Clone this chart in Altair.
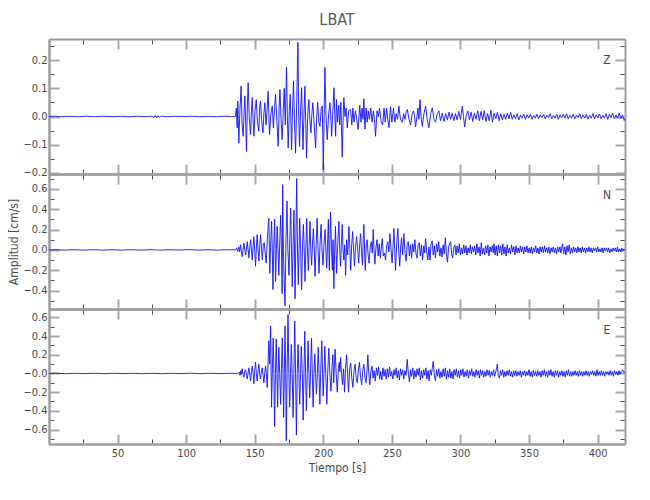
import altair as alt
import pandas as pd

alt.data_transformers.disable_max_rows()

# ---------------- data ----------------
Z_QUIET = [(0, 0.0), (4, 0.001), (9, -0.001), (15, 0.0005), (21, -0.001), (27, 0.001), (33, -0.0005),
           (40, 0.001), (46, -0.001), (52, 0.0005), (58, -0.001), (64, 0.001), (70, -0.0005), (75, 0.001),
           (76.5, -0.003), (77.5, 0.004), (78.5, -0.004), (79.5, 0.003), (80.5, -0.003), (82, 0.001),
           (86, -0.001), (92, 0.001), (98, -0.0005), (104, 0.001), (110, -0.001), (116, 0.0005),
           (122, -0.001), (128, 0.001), (133, -0.0005), (135.5, 0.0)]

Z_PTS = [(136.0, 0.0), (136.6, 0.03), (137.2, -0.04), (137.7, 0.055), (138.4, -0.094), (139.2, 0.02),
         (140.1, 0.108), (140.8, -0.03), (141.6, -0.07), (142.2, 0.01), (142.8, 0.073), (143.4, -0.02),
         (144.0, -0.124), (144.6, 0.03), (145.2, 0.12), (146.0, 0.0), (147.0, -0.064), (147.6, 0.02),
         (148.2, 0.067), (148.8, -0.01), (149.4, -0.07), (150.2, 0.02), (151.1, 0.06), (152.0, -0.02),
         (153.0, -0.052), (153.6, 0.03), (154.2, 0.055), (155.0, -0.01), (156.0, -0.058), (156.7, 0.01),
         (157.4, 0.049), (158.2, -0.03), (159.0, 0.02), (159.8, 0.09), (160.8, -0.064), (161.8, 0.01),
         (162.8, 0.037), (163.6, -0.04), (164.4, 0.02), (165.2, 0.079), (166.2, -0.02), (167.1, -0.106),
         (167.8, 0.03), (168.4, 0.096), (169.2, -0.01), (170.0, -0.082), (170.8, 0.02), (171.5, 0.1),
         (172.3, -0.03), (173.2, 0.174), (173.8, 0.0), (174.4, -0.112), (175.2, 0.02), (175.9, 0.079),
         (176.4, -0.02), (176.9, -0.118), (177.6, 0.03), (178.3, 0.126), (179.0, -0.02), (179.8, -0.13),
         (180.6, 0.05), (181.5, 0.263), (182.1, 0.0), (182.7, -0.106), (183.5, 0.03), (184.2, 0.102),
         (184.7, -0.01), (185.2, -0.118), (186.0, 0.02), (186.6, 0.108), (187.2, -0.02), (187.8, -0.148),
         (188.7, 0.01), (189.5, 0.06), (190.2, -0.01), (191.0, -0.058), (191.7, 0.01), (192.4, 0.049),
         (193.4, -0.03), (194.4, -0.112), (195.2, 0.0), (195.9, 0.05), (196.8, -0.02), (197.6, -0.035),
         (198.5, 0.03), (199.3, 0.037), (200.0, -0.19), (200.6, 0.0), (201.2, 0.174), (202.0, 0.0),
         (202.9, -0.082), (203.9, 0.01), (204.9, 0.049), (205.5, -0.01), (206.1, -0.07), (207.0, 0.02),
         (207.8, 0.102), (208.5, -0.01), (209.0, -0.07), (209.6, 0.06), (210.4, -0.02), (211.2, 0.04),
         (212.0, -0.03), (212.8, 0.05), (213.8, -0.144), (214.5, 0.0), (215.0, 0.067), (215.8, 0.0),
         (216.6, 0.03), (217.5, -0.04), (218.5, 0.02), (219.9, 0.025), (220.8, -0.03), (221.6, 0.03),
         (222.4, -0.02), (223.4, 0.02), (224.4, -0.01), (225.4, -0.046), (226.6, 0.04), (227.5, -0.02),
         (228.3, 0.03), (229.0, -0.01), (229.6, 0.063), (230.4, -0.045), (231.2, 0.03), (232.0, -0.02),
         (232.8, 0.02), (233.6, -0.01), (234.6, 0.03), (235.6, -0.02), (236.5, 0.02), (237.3, -0.01),
         (238.1, -0.07), (239.2, 0.02), (240.2, 0.0), (241.0, 0.03), (242.2, -0.02), (243.3, -0.03),
         (244.3, 0.03), (245.2, -0.02), (246.2, 0.03), (247.0, -0.01), (247.9, -0.04), (249.0, 0.035),
         (250.0, -0.02), (251.2, 0.03), (252.2, -0.02), (253.2, 0.01), (254.2, -0.01), (255.1, 0.037),
         (256.3, -0.01), (257.6, -0.02), (258.6, 0.01), (259.6, -0.01), (260.4, 0.015), (261.3, 0.025),
         (262.5, -0.01), (263.7, -0.03), (264.8, 0.01), (265.8, 0.02), (266.6, 0.0), (267.3, -0.037),
         (268.3, 0.0), (269.0, 0.03), (269.7, -0.01), (270.5, 0.06), (271.3, 0.0), (272.2, -0.035),
         (273.4, 0.01), (274.6, 0.037), (275.8, -0.01), (277.0, -0.04), (278.3, 0.01), (279.5, 0.031),
         (280.7, -0.01), (281.9, -0.02), (283.1, 0.01), (284.3, 0.02), (285.5, -0.015), (286.7, 0.012),
         (288.0, -0.018), (289.2, 0.01), (290.5, -0.012), (291.6, 0.015), (292.8, -0.01), (294.0, 0.012),
         (295.2, -0.015), (296.4, 0.01), (297.6, -0.012), (298.8, 0.018), (300.0, -0.01), (301.4, 0.037),
         (302.2, 0.0), (303.1, -0.037), (304.3, 0.005), (305.4, 0.02), (306.6, -0.012), (307.8, 0.015),
         (309.0, -0.018), (310.2, 0.012), (311.4, -0.01), (312.6, 0.02), (313.8, -0.015), (315.0, 0.018),
         (316.2, -0.012), (317.4, 0.02), (318.6, -0.018), (319.8, 0.01), (321.0, -0.015), (322.2, 0.022),
         (323.4, -0.02), (324.6, 0.012), (325.8, -0.008), (327.0, 0.015), (328.2, -0.015), (329.4, 0.01),
         (330.6, -0.012), (331.8, 0.008), (333.0, -0.01), (334.2, 0.012), (335.4, -0.008), (336.6, 0.015),
         (337.8, -0.01), (339.0, 0.006), (340.2, -0.008), (341.4, 0.01), (342.6, -0.012), (343.8, 0.005),
         (345.0, -0.006), (346.2, 0.008), (347.4, -0.01), (348.6, 0.006), (349.8, -0.005), (351.0, 0.008),
         (352.2, -0.01), (353.4, 0.004), (354.6, -0.006), (355.8, 0.008), (357.0, -0.008), (358.2, 0.006),
         (359.4, -0.004), (360.6, 0.007), (361.8, -0.008), (363.0, 0.005), (364.2, -0.004), (365.4, 0.01),
         (366.6, -0.008), (367.8, 0.004), (369.0, -0.006), (370.2, 0.008), (371.4, -0.01), (372.6, 0.006),
         (373.8, -0.005), (375.0, 0.008), (376.2, -0.006), (377.4, 0.01), (378.6, -0.008), (379.8, 0.004),
         (381.0, -0.006), (382.2, 0.008), (383.4, -0.008), (384.6, 0.005), (385.8, -0.004), (387.0, 0.01),
         (388.2, -0.008), (389.4, 0.006), (390.6, -0.005), (391.8, 0.008), (393.0, -0.01), (394.2, 0.005),
         (395.4, -0.006), (396.6, 0.01), (397.8, -0.008), (399.0, 0.006), (400.2, -0.005), (401.4, 0.009),
         (402.6, -0.008), (403.8, 0.004), (405.0, -0.006), (406.2, 0.01), (407.4, -0.01), (408.6, 0.008),
         (409.8, -0.004), (411.0, 0.012), (412.2, -0.008), (413.4, 0.006), (414.6, -0.006), (415.8, 0.012),
         (417.0, -0.008), (418.2, 0.006), (419.4, -0.014), (420.0, -0.008)]

N_QUIET = [(0, 0.0), (5, 0.002), (11, -0.002), (18, 0.002), (25, -0.002), (32, 0.002), (39, -0.002),
           (46, 0.002), (53, -0.002), (60, 0.002), (67, -0.002), (74, 0.002), (81, -0.002), (88, 0.002),
           (95, -0.002), (102, 0.003), (109, -0.002), (116, 0.002), (123, -0.002), (130, 0.002), (135.5, 0.0)]

N_PTS = [(136.0, 0.0), (136.8, 0.02), (137.6, -0.015), (138.4, 0.03), (139.0, -0.02), (139.7, 0.05),
         (140.3, -0.02), (140.9, -0.066), (141.5, 0.0), (142.1, 0.066), (142.8, 0.0), (143.4, -0.05),
         (144.0, 0.02), (144.6, 0.08), (145.2, 0.0), (145.8, -0.08), (146.4, 0.02), (147.0, 0.1),
         (147.6, 0.0), (148.2, -0.1), (148.8, 0.03), (149.4, 0.13), (150.0, 0.0), (150.6, -0.16),
         (151.2, 0.02), (151.8, 0.15), (152.4, 0.0), (153.1, -0.11), (153.7, 0.05), (154.3, 0.15),
         (155.0, 0.0), (155.6, -0.1), (156.3, 0.06), (157.0, 0.07), (157.7, -0.04), (158.4, -0.13),
         (159.2, 0.1), (159.9, 0.25), (160.3, 0.31), (160.7, 0.0), (161.0, -0.23), (161.6, 0.05),
         (162.3, 0.28), (162.8, 0.0), (163.3, -0.39), (163.9, 0.05), (164.5, 0.3), (164.9, 0.0),
         (165.2, -0.31), (165.8, 0.0), (166.4, 0.23), (167.0, 0.0), (167.6, -0.25), (168.2, 0.05),
         (168.9, 0.34), (169.5, 0.0), (170.0, -0.43), (170.4, 0.64), (170.9, 0.0), (171.5, -0.3),
         (172.1, -0.55), (172.8, 0.1), (173.5, 0.48), (174.2, 0.0), (175.0, -0.25), (175.6, 0.1),
         (176.2, 0.41), (176.8, 0.0), (177.4, -0.36), (178.0, 0.05), (178.6, 0.39), (179.0, 0.0),
         (179.4, -0.48), (180.0, 0.1), (180.6, 0.7), (181.2, 0.0), (181.8, -0.34), (182.3, 0.0),
         (182.8, 0.31), (183.5, 0.0), (184.2, -0.39), (184.8, 0.0), (185.5, 0.25), (186.1, 0.0),
         (186.7, -0.31), (187.3, 0.0), (187.9, 0.31), (188.5, 0.0), (189.1, -0.2), (189.7, 0.05),
         (190.3, 0.28), (190.9, 0.0), (191.5, -0.15), (192.1, 0.05), (192.8, 0.21), (193.4, 0.0),
         (194.0, -0.26), (194.8, 0.05), (195.5, 0.31), (196.2, 0.0), (196.9, -0.23), (197.6, 0.05),
         (198.4, 0.25), (199.1, 0.0), (199.8, -0.15), (200.5, 0.05), (201.3, 0.2), (201.9, 0.0),
         (202.5, -0.18), (203.1, 0.05), (203.7, 0.3), (204.4, -0.2), (205.3, 0.37), (206.0, 0.0),
         (206.6, -0.2), (207.1, 0.1), (207.7, -0.38), (208.3, 0.0), (208.9, 0.23), (209.7, -0.23),
         (210.5, 0.05), (211.4, 0.28), (212.0, 0.0), (212.6, -0.16), (213.2, 0.05), (213.8, 0.25),
         (214.4, 0.0), (215.0, -0.1), (215.6, 0.05), (216.3, -0.25), (217.0, 0.1), (217.8, -0.05),
         (218.7, 0.23), (219.4, 0.0), (220.0, -0.2), (220.7, 0.05), (221.4, 0.18), (222.1, 0.0),
         (222.8, -0.16), (223.5, 0.03), (224.3, 0.13), (225.1, 0.0), (225.8, -0.13), (226.5, 0.05),
         (227.2, 0.16), (227.9, -0.02), (228.6, -0.15), (229.1, 0.1), (229.6, 0.25), (230.1, 0.0),
         (230.6, -0.2), (231.3, 0.05), (232.0, 0.1), (232.7, -0.05), (233.4, -0.13), (234.2, 0.03),
         (235.0, 0.08), (235.7, -0.03), (236.4, 0.2), (237.0, 0.0), (237.6, -0.14), (238.4, 0.02),
         (239.2, 0.1), (240.0, -0.06), (240.8, 0.06), (241.6, -0.08), (242.4, 0.04), (243.0, 0.11),
         (243.8, -0.06), (244.6, -0.03), (245.4, -0.1), (246.2, 0.04), (247.0, 0.08), (247.8, -0.02),
         (248.6, 0.16), (249.4, 0.0), (250.2, -0.13), (250.8, 0.02), (251.5, 0.21), (252.1, 0.0),
         (252.7, -0.2), (253.5, 0.05), (254.4, 0.21), (255.0, 0.0), (255.7, -0.16), (256.4, 0.02),
         (257.1, 0.12), (257.8, -0.05), (258.8, 0.16), (259.6, -0.03), (260.4, -0.11), (261.2, 0.06),
         (262.0, 0.08), (262.8, -0.06), (263.6, 0.05), (264.4, -0.08), (265.2, 0.06), (266.0, -0.02),
         (266.8, 0.1), (267.6, -0.04), (268.4, -0.08), (269.2, 0.05), (270.0, 0.07), (270.8, -0.06),
         (271.6, 0.05), (272.4, -0.1), (273.3, 0.04), (274.0, -0.03), (274.6, 0.11), (275.4, -0.02),
         (276.2, -0.1), (277.0, 0.03), (277.8, -0.1), (278.6, 0.06), (279.4, 0.09), (280.2, -0.05),
         (281.0, 0.04), (281.8, -0.08), (282.6, 0.06), (283.4, -0.02), (284.2, 0.08), (285.0, -0.06),
         (285.8, 0.02), (286.6, -0.07), (287.4, 0.05), (288.2, -0.04), (289.0, 0.12), (289.8, -0.05),
         (290.6, -0.12), (291.4, 0.03), (292.2, 0.06), (292.9, 0.08), (293.6, -0.04), (294.4, -0.08),
         (295.2, 0.03), (296.0, 0.05), (296.8, -0.05), (297.6, 0.04), (298.4, -0.03), (299.2, 0.06),
         (300.0, -0.05), (300.8, 0.02), (301.6, -0.04), (302.4, 0.05), (303.2, -0.03), (304.0, 0.04),
         (304.8, -0.05), (305.6, 0.02), (306.4, -0.03), (307.2, 0.05), (308.0, -0.04), (308.8, 0.03),
         (309.6, -0.02), (310.4, 0.04), (311.2, -0.05), (312.0, 0.06), (312.8, -0.03), (313.6, 0.03),
         (314.4, -0.06), (315.2, 0.07), (316.0, -0.04), (316.8, 0.02), (317.6, -0.05), (318.4, 0.04),
         (319.2, -0.03), (320.0, 0.05), (320.8, -0.06), (321.6, 0.03), (322.4, -0.02), (323.2, 0.04),
         (324.0, -0.03), (324.5, 0.06), (325.3, -0.05), (326.1, 0.04), (326.9, -0.06), (327.7, 0.05),
         (328.5, -0.03), (329.3, 0.04), (330.1, -0.05), (330.9, 0.06), (331.7, -0.04), (332.5, 0.03),
         (333.3, -0.06), (334.1, 0.05), (334.9, -0.03), (335.7, 0.02), (336.5, -0.04), (337.3, 0.05),
         (338.1, -0.02), (338.9, 0.03), (339.7, -0.05), (340.5, 0.04), (341.3, -0.03), (342.1, 0.02),
         (342.9, -0.03), (343.7, 0.04), (344.5, -0.02), (345.3, 0.03), (346.1, -0.04), (346.9, 0.03),
         (347.7, -0.02), (348.5, 0.04), (349.3, -0.03), (350.1, 0.02), (350.9, -0.03), (351.7, 0.03),
         (352.5, -0.04), (353.3, 0.02), (354.1, -0.02), (354.9, 0.04), (355.7, -0.03), (356.5, 0.02),
         (357.3, -0.04), (358.1, 0.03), (358.9, -0.02), (359.7, 0.03), (360.5, -0.03), (361.3, 0.04),
         (362.1, -0.02), (362.9, 0.02), (363.7, -0.03), (364.5, 0.03), (365.3, -0.04), (366.1, 0.02),
         (366.9, -0.02), (367.7, 0.03), (368.5, -0.03), (369.3, 0.02), (370.1, -0.04), (370.9, 0.03),
         (371.7, -0.02), (372.5, 0.03), (373.3, -0.03), (374.1, 0.04), (374.5, 0.06), (375.3, -0.04),
         (376.1, 0.03), (376.9, -0.05), (377.7, 0.04), (378.5, -0.02), (379.3, 0.05), (380.1, -0.04),
         (380.9, 0.02), (381.7, -0.03), (382.5, 0.03), (383.3, -0.02), (384.1, 0.02), (384.9, -0.03),
         (385.7, 0.03), (386.5, -0.02), (387.3, 0.02), (388.1, -0.03), (388.9, 0.03), (389.7, -0.02),
         (390.5, 0.02), (391.3, -0.03), (392.1, 0.02), (392.9, -0.02), (393.7, 0.03), (394.5, -0.02),
         (395.3, 0.02), (396.1, -0.03), (396.9, 0.02), (397.7, -0.01), (398.5, 0.02), (399.3, -0.02),
         (400.1, 0.03), (400.9, -0.02), (401.7, 0.01), (402.5, -0.02), (403.3, 0.02), (404.1, -0.03),
         (404.9, 0.02), (405.7, -0.01), (406.5, 0.02), (407.3, -0.02), (408.1, 0.02), (408.9, -0.03),
         (409.7, 0.01), (410.5, -0.02), (411.3, 0.02), (412.1, -0.01), (412.9, 0.02), (413.7, -0.02),
         (414.5, 0.03), (415.3, -0.02), (416.1, 0.01), (416.9, -0.02), (417.7, 0.02), (418.5, -0.01),
         (419.3, 0.01), (420.0, 0.0)]

E_QUIET = [(0, 0.0), (5, 0.002), (12, -0.002), (19, 0.002), (26, -0.002), (33, 0.002), (40, -0.002),
           (47, 0.002), (54, -0.002), (61, 0.002), (68, -0.002), (75, 0.002), (82, -0.002), (89, 0.002),
           (96, -0.002), (103, 0.003), (110, -0.002), (117, 0.002), (124, -0.002), (131, 0.002), (137.5, 0.0)]

E_PTS = [(138.0, 0.0), (138.7, 0.015), (139.3, -0.02), (139.9, 0.03), (140.4, -0.01), (140.9, 0.05),
         (141.5, -0.01), (142.1, -0.04), (142.7, 0.02), (143.4, 0.04), (144.0, -0.02), (144.6, -0.06),
         (145.2, 0.01), (145.8, 0.06), (146.4, -0.02), (147.0, -0.08), (147.6, 0.02), (148.2, 0.08),
         (148.8, 0.0), (149.4, -0.11), (150.0, 0.03), (150.6, 0.12), (151.2, 0.0), (151.8, -0.08),
         (152.4, 0.02), (153.0, 0.1), (153.6, 0.0), (154.2, -0.06), (154.9, 0.02), (155.5, 0.06),
         (156.1, -0.02), (156.7, -0.1), (157.3, 0.0), (157.9, 0.08), (158.5, 0.0), (159.1, -0.15),
         (159.7, 0.1), (160.3, 0.35), (160.9, 0.1), (161.6, 0.51), (162.0, 0.0), (162.3, -0.36),
         (162.9, 0.05), (163.5, 0.38), (164.0, 0.0), (164.5, -0.57), (165.1, 0.0), (165.7, 0.37),
         (166.2, 0.0), (166.7, -0.36), (167.1, 0.0), (167.6, 0.28), (168.2, 0.0), (168.9, -0.33),
         (169.5, 0.05), (170.1, 0.38), (170.6, 0.0), (171.1, -0.47), (171.6, 0.0), (172.1, 0.51),
         (172.6, 0.0), (173.0, -0.72), (173.6, 0.0), (174.3, 0.63), (174.9, 0.0), (175.5, -0.36),
         (176.1, 0.0), (176.7, 0.31), (177.3, 0.0), (178.0, -0.47), (178.6, 0.05), (179.2, 0.56),
         (179.8, 0.0), (180.4, -0.66), (181.0, 0.0), (181.6, 0.31), (182.2, 0.0), (182.8, -0.33),
         (183.4, 0.0), (184.0, 0.29), (184.7, 0.0), (185.3, -0.5), (185.9, 0.0), (186.5, 0.45),
         (187.1, 0.0), (187.7, -0.4), (188.3, 0.0), (188.9, 0.35), (189.5, 0.0), (190.1, -0.26),
         (190.8, 0.05), (191.4, 0.38), (192.0, 0.0), (192.6, -0.36), (193.2, 0.0), (193.8, 0.21),
         (194.4, 0.0), (195.0, -0.22), (195.7, 0.0), (196.3, 0.28), (196.9, 0.0), (197.5, -0.33),
         (198.1, 0.0), (198.9, 0.35), (199.9, -0.24), (200.5, 0.0), (201.1, 0.29), (201.8, 0.0),
         (202.6, -0.33), (203.2, 0.0), (204.0, 0.27), (204.8, 0.0), (205.6, -0.19), (206.3, 0.05),
         (207.0, 0.2), (207.6, -0.1), (208.6, 0.26), (209.4, 0.0), (210.2, -0.2), (211.0, 0.05),
         (211.7, 0.12), (212.1, 0.02), (212.6, 0.17), (213.3, 0.0), (214.0, -0.12), (214.8, 0.05),
         (215.5, -0.2), (216.2, 0.05), (217.0, 0.2), (217.7, 0.0), (218.4, -0.2), (219.2, 0.05),
         (220.0, 0.11), (220.8, -0.05), (221.6, -0.15), (222.4, 0.03), (223.2, 0.1), (224.0, -0.05),
         (224.8, -0.1), (225.6, 0.04), (226.4, 0.12), (227.2, -0.04), (228.0, -0.12), (228.8, 0.03),
         (229.6, 0.1), (230.4, -0.04), (231.2, -0.1), (232.0, 0.05), (232.5, 0.2), (233.2, 0.0),
         (233.9, -0.12), (234.7, 0.02), (235.5, 0.08), (236.3, -0.05), (237.1, 0.03), (237.9, -0.08),
         (238.7, 0.06), (239.5, -0.02), (240.3, 0.07), (241.1, -0.06), (241.9, 0.02), (242.7, -0.07),
         (243.5, 0.06), (244.3, -0.03), (245.1, 0.04), (245.9, -0.06), (246.7, 0.05), (247.5, -0.04),
         (248.3, 0.07), (249.1, -0.03), (249.9, 0.02), (250.7, -0.06), (251.5, 0.04), (252.3, -0.02),
         (253.1, 0.06), (253.9, -0.05), (254.7, 0.03), (255.5, -0.07), (256.3, 0.05), (257.1, -0.02),
         (257.9, 0.04), (258.7, -0.06), (259.5, 0.03), (260.3, -0.02), (261.2, 0.15), (262.0, 0.0),
         (262.8, -0.09), (263.6, 0.04), (264.4, -0.03), (265.2, 0.06), (266.0, -0.06), (266.8, 0.03),
         (267.6, -0.04), (268.4, 0.05), (269.2, -0.02), (270.0, 0.06), (270.8, -0.07), (271.6, 0.03),
         (272.4, -0.05), (273.2, 0.04), (274.0, -0.02), (274.8, 0.06), (275.6, -0.06), (276.4, 0.03),
         (277.2, -0.08), (278.0, 0.04), (278.8, -0.02), (279.5, 0.06), (280.2, 0.13), (281.0, -0.02),
         (281.8, -0.08), (282.6, 0.04), (283.4, -0.03), (284.2, 0.05), (285.0, -0.05), (285.8, 0.02),
         (286.6, -0.04), (287.4, 0.05), (288.2, -0.03), (289.0, 0.06), (289.8, -0.06), (290.6, 0.03),
         (291.4, -0.04), (292.2, 0.05), (293.0, -0.05), (293.8, 0.02), (294.6, -0.06), (295.4, 0.04),
         (296.2, -0.02), (297.0, 0.05), (297.8, -0.04), (298.6, 0.03), (299.4, -0.05), (300.2, 0.04),
         (301.0, -0.02), (301.8, 0.05), (302.6, -0.04), (303.4, 0.02), (304.2, -0.03), (305.0, 0.04),
         (305.8, -0.05), (306.6, 0.03), (307.4, -0.02), (308.2, 0.05), (309.0, -0.03), (309.8, 0.02),
         (310.6, -0.04), (311.4, 0.04), (312.2, -0.02), (313.0, 0.03), (313.8, -0.05), (314.6, 0.04),
         (315.4, -0.02), (316.2, 0.03), (317.0, -0.04), (317.8, 0.02), (318.6, -0.03), (319.4, 0.04),
         (320.2, -0.02), (321.0, 0.03), (321.8, -0.04), (322.6, 0.02), (323.4, -0.02), (324.2, 0.04),
         (325.0, -0.03), (325.8, 0.02), (326.5, 0.06), (326.9, 0.1), (327.6, -0.02), (328.4, -0.05),
         (329.2, 0.03), (330.0, -0.02), (330.8, 0.04), (331.6, -0.04), (332.4, 0.02), (333.2, -0.03),
         (334.0, 0.03), (334.8, -0.02), (335.6, 0.04), (336.4, -0.03), (337.2, 0.02), (338.0, -0.04),
         (338.8, 0.03), (339.6, -0.02), (340.4, 0.03), (341.2, -0.03), (342.0, 0.02), (342.8, -0.02),
         (343.6, 0.03), (344.4, -0.04), (345.2, 0.02), (346.0, -0.02), (346.8, 0.03), (347.6, -0.03),
         (348.4, 0.02), (349.2, -0.02), (350.0, 0.04), (350.8, -0.03), (351.6, 0.02), (352.4, -0.04),
         (353.2, 0.03), (354.0, -0.02), (354.8, 0.02), (355.6, -0.03), (356.4, 0.03), (357.2, -0.02),
         (358.0, 0.02), (358.8, -0.04), (359.6, 0.03), (360.4, -0.02), (361.2, 0.04), (362.0, -0.03),
         (362.8, 0.02), (363.6, -0.04), (364.4, 0.03), (365.2, -0.02), (366.0, 0.04), (366.8, -0.03),
         (367.6, 0.02), (368.4, -0.04), (369.2, 0.03), (370.0, -0.02), (370.8, 0.03), (371.6, -0.04),
         (372.4, 0.02), (373.2, -0.02), (374.0, 0.03), (374.8, -0.03), (375.6, 0.02), (376.4, -0.04),
         (377.2, 0.03), (378.0, -0.02), (378.8, 0.04), (379.6, -0.03), (380.4, 0.02), (381.2, -0.03),
         (382.0, 0.02), (382.8, -0.02), (383.6, 0.03), (384.4, -0.02), (385.2, 0.02), (386.0, -0.03),
         (386.8, 0.03), (387.6, -0.02), (388.4, 0.02), (389.2, -0.03), (390.0, 0.02), (390.8, -0.02),
         (391.6, 0.03), (392.4, -0.02), (393.2, 0.02), (394.0, -0.03), (394.8, 0.02), (395.6, -0.01),
         (396.4, 0.03), (397.2, -0.02), (398.0, 0.02), (398.8, -0.03), (399.6, 0.04), (400.4, -0.02),
         (401.2, 0.02), (402.0, -0.02), (402.8, 0.03), (403.6, -0.02), (404.4, 0.02), (405.2, -0.03),
         (406.0, 0.02), (406.8, -0.01), (407.6, 0.02), (408.4, -0.02), (409.2, 0.03), (410.0, -0.02),
         (410.8, 0.02), (411.6, -0.03), (412.4, 0.03), (413.2, -0.01), (414.0, 0.02), (414.8, -0.02),
         (415.6, 0.03), (416.4, -0.01), (417.2, 0.02), (418.2, 0.04), (419.2, 0.01), (420.0, 0.02)]

COMPONENTS = ["Z", "N", "E"]
Y_DOMAINS = {"Z": [-0.204, 0.275], "N": [-0.58, 0.745], "E": [-0.755, 0.69]}
Y_MAJOR = {"Z": [-0.2, -0.1, 0.0, 0.1, 0.2],
           "N": [-0.4, -0.2, 0.0, 0.2, 0.4, 0.6],
           "E": [-0.6, -0.4, -0.2, 0.0, 0.2, 0.4, 0.6]}
Y_MINOR = {"Z": [-0.15, -0.05, 0.05, 0.15, 0.25],
           "N": [-0.5, -0.3, -0.1, 0.1, 0.3, 0.5, 0.7],
           "E": [-0.7, -0.5, -0.3, -0.1, 0.1, 0.3, 0.5]}
X_MAJOR = [50, 100, 150, 200, 250, 300, 350, 400]
X_MINOR = [25, 75, 125, 175, 225, 275, 325, 375]
X_DOMAIN = [0, 420]

TITLE = "LBAT"
X_TITLE = "Tiempo [s]"
Y_TITLE = "Amplitud [cm/s]"

# ---------------- styling ----------------
FONT = "DejaVu Sans Condensed"
TEXT_COLOR = "#4a4a4a"
FRAME = "#9c9c9c"
MAJOR_TICK = "#a8a8a8"
MINOR_TICK = "#505050"
LINE_COLOR = "#1010ff"
W, H = 576, 135

traces = {"Z": Z_QUIET + Z_PTS, "N": N_QUIET + N_PTS, "E": E_QUIET + E_PTS}
frames = {c: pd.DataFrame(traces[c], columns=["t", "v"]) for c in COMPONENTS}


def panel(comp):
    df = frames[comp]
    xsc = alt.Scale(domain=X_DOMAIN, nice=False, zero=False)
    ysc = alt.Scale(domain=Y_DOMAINS[comp], nice=False, zero=False)
    base = alt.Chart(df)
    last = comp == "E"

    x_main = dict(orient="bottom", values=X_MAJOR, ticks=False, grid=False,
                  domainColor=FRAME, domainWidth=2, labels=last, labelPadding=3)
    if last:
        x_main["titlePadding"] = 4
    y_main = dict(orient="left", values=Y_MAJOR[comp], ticks=False, grid=False,
                  domainColor=FRAME, domainWidth=2, labelPadding=2, titlePadding=2)
    if comp == "E":
        y_main["labelExpr"] = "datum.value == 0 ? '\u22120.0' : format(datum.value, '.1f')"
    else:
        y_main["format"] = ".1f"

    line = base.mark_line(color=LINE_COLOR, strokeWidth=0.9, clip=True).encode(
        x=alt.X("t:Q", scale=xsc, axis=alt.Axis(**x_main),
                title=X_TITLE if last else None),
        y=alt.Y("v:Q", scale=ysc, axis=alt.Axis(**y_main),
                title=Y_TITLE if comp == "N" else None),
    )

    def ticks(y_orient, x_orient, yvals, xvals, size, color, width, domain):
        return base.mark_line(opacity=0).encode(
            x=alt.X("t:Q", scale=xsc, title=None,
                    axis=alt.Axis(orient=x_orient, offset=-H, values=xvals, labels=False,
                                  tickSize=size, tickColor=color, tickWidth=width, grid=False,
                                  domain=domain, domainColor=FRAME, domainWidth=2)),
            y=alt.Y("v:Q", scale=ysc, title=None,
                    axis=alt.Axis(orient=y_orient, offset=-W, values=yvals, labels=False,
                                  tickSize=size, tickColor=color, tickWidth=width, grid=False,
                                  domain=domain, domainColor=FRAME, domainWidth=2)),
        )

    # inward ticks: left & top edges, then right & bottom edges
    t1 = ticks("right", "bottom", Y_MINOR[comp], X_MINOR, 5, MINOR_TICK, 1, True)
    t2 = ticks("right", "bottom", Y_MAJOR[comp], X_MAJOR, 10, MAJOR_TICK, 2, False)
    t3 = ticks("left", "top", Y_MINOR[comp], X_MINOR, 5, MINOR_TICK, 1, True)
    t4 = ticks("left", "top", Y_MAJOR[comp], X_MAJOR, 10, MAJOR_TICK, 2, False)

    label = alt.Chart(pd.DataFrame({"lab": [comp]})).mark_text(
        font=FONT, fontSize=12, color=TEXT_COLOR, align="center", baseline="middle"
    ).encode(text="lab:N", x=alt.value(W - 18), y=alt.value(21))

    ch = alt.layer(t1, t2, t3, t4, line, label).resolve_axis(x="independent", y="independent")
    props = dict(width=W, height=H)
    if comp == "Z":
        props["title"] = alt.TitleParams(TITLE, font=FONT, fontSize=16, fontWeight="normal",
                                         color="#5a5a5a", anchor="middle", frame="group", offset=10)
    return ch.properties(**props)


chart = alt.vconcat(*[panel(c) for c in COMPONENTS], spacing=0, bounds="flush").properties(
    padding={"left": -1, "top": 4, "right": 5, "bottom": 5}
).configure_view(strokeWidth=0).configure_axis(
    labelFont=FONT, titleFont=FONT, labelFontSize=11, titleFontSize=12,
    labelColor=TEXT_COLOR, titleColor=TEXT_COLOR, titleFontWeight="normal"
)

chart.save("out.html", embed_options={"renderer": "svg", "actions": False})
